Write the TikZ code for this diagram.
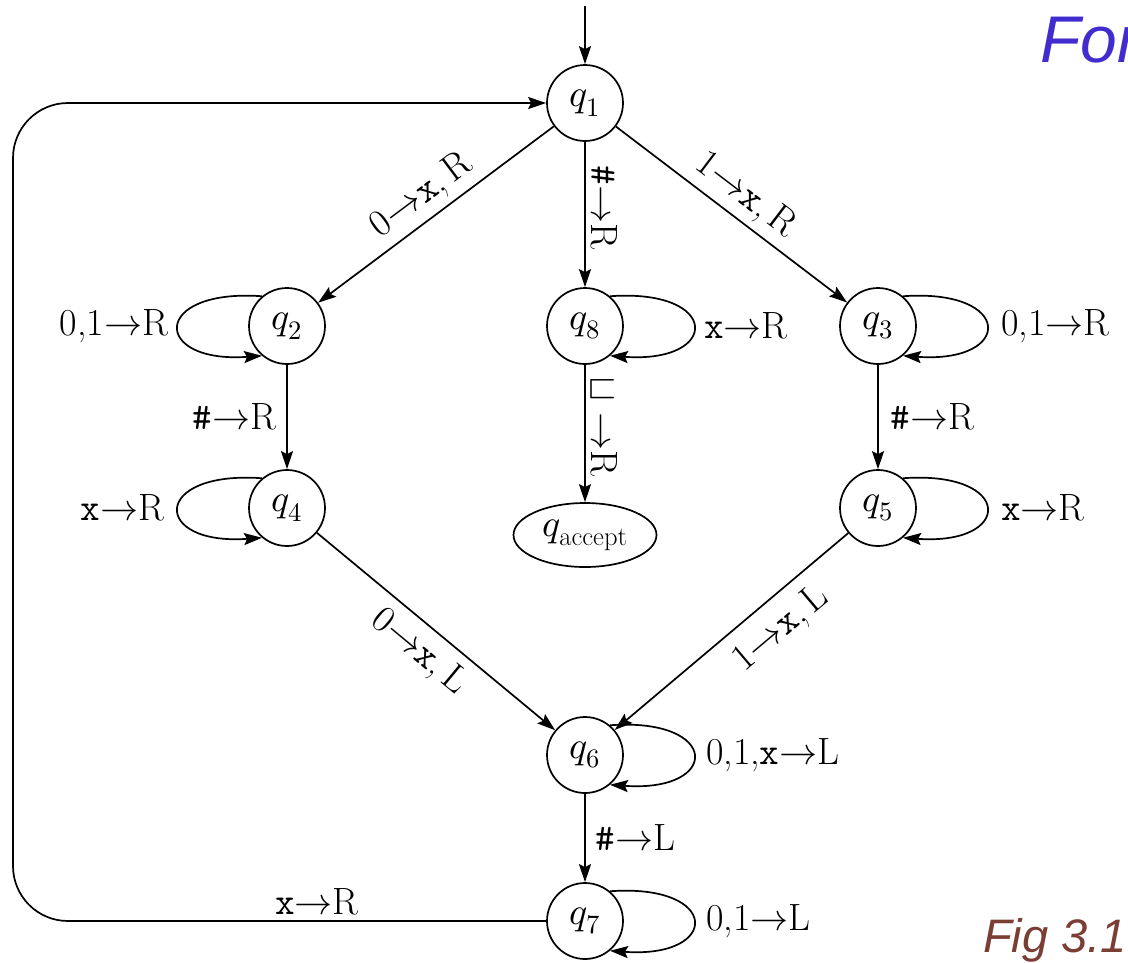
\documentclass[tikz,border=0pt]{standalone}
\usepackage{fontspec}
\usepackage{unicode-math}
\setmathfont{Latin Modern Math}
\newfontfamily\figfont{Liberation Sans}
\usetikzlibrary{arrows.meta,shapes.geometric}
\definecolor{forblue}{RGB}{66,44,208}
\definecolor{figbrown}{RGB}{122,62,52}
\begin{document}
\begin{tikzpicture}[x=1pt,y=-1pt,
  every node/.style={font=\fontsize{38}{42}\selectfont},
  state/.style={draw, circle, line width=1.7pt, minimum size=76pt, inner sep=0pt},
  acc/.style={draw, ellipse, line width=1.7pt, minimum width=143pt, minimum height=64pt, inner sep=0pt},
  edge/.style={line width=1.7pt, -{Stealth[length=18pt,width=12pt,inset=3pt]}},
  lbl/.style={inner sep=5pt},
]
\useasboundingbox (0,0) rectangle (1128,962);

% states
\node[state] (q1) at (585,103) {$q_1$};
\node[state] (q2) at (287,326) {$q_2$};
\node[state] (q8) at (585,326) {$q_8$};
\node[state] (q3) at (878,326) {$q_3$};
\node[state] (q4) at (287,508) {$q_4$};
\node[acc]   (qa) at (585,535) {$q_{\mathrm{accept}}$};
\node[state] (q5) at (878,508) {$q_5$};
\node[state] (q6) at (585,755) {$q_6$};
\node[state] (q7) at (585,921) {$q_7$};

\coordinate (start) at (585,6);
\coordinate (bl) at (13,921);
\coordinate (tl) at (13,103);

% start arrow
\draw[edge] (start) -- (q1);

% straight transitions
\draw[edge] (q1) -- node[sloped, above, lbl, inner sep=6pt]{0$\rightarrow$\texttt{x},\,R} (q2);
\draw[edge] (q1) -- node[sloped, above, lbl, pos=0.45]{\texttt{\#}$\rightarrow$R} (q8);
\draw[edge] (q1) -- node[sloped, above, lbl, inner sep=6pt]{1$\rightarrow$\texttt{x},\,R} (q3);
\draw[edge] (q2) -- node[left, lbl, inner sep=10pt]{\texttt{\#}$\rightarrow$R} (q4);
\draw[edge] (q3) -- node[right, lbl, inner sep=12pt]{\texttt{\#}$\rightarrow$R} (q5);
\draw[edge, line width=2.3pt] (q8) -- node[sloped, above, lbl, pos=0.45]{$\sqcup\rightarrow$R} (qa);
\draw[edge] (q4) -- node[sloped, below, lbl, inner sep=9pt]{0$\rightarrow$\texttt{x},\,L} (q6);
\draw[edge] (q5) -- node[sloped, below, lbl, pos=0.37, inner sep=13pt]{1$\rightarrow$\texttt{x},\,L} (q6);
\draw[edge] (q6) -- node[right, lbl, inner sep=10pt]{\texttt{\#}$\rightarrow$L} (q7);

% return path
\draw[edge, rounded corners=55pt] (q7.west) -- node[above, lbl, pos=0.43]{\texttt{x}$\rightarrow$R} (bl) -- (tl) -- (q1.west);

% self loops
\draw[edge] (q2.130) .. controls +(-111,-8) and +(-111,8) .. node[midway, left, lbl, inner sep=10pt]{0,1$\rightarrow$R} (q2.230);
\draw[edge] (q4.130) .. controls +(-111,-8) and +(-111,8) .. node[midway, left, lbl, inner sep=14pt]{\texttt{x}$\rightarrow$R} (q4.230);
\draw[edge] (q8.50) .. controls +(111,-8) and +(111,8) .. node[midway, right, lbl, inner sep=10pt]{\texttt{x}$\rightarrow$R} (q8.-50);
\draw[edge] (q3.50) .. controls +(111,-8) and +(111,8) .. node[midway, right, lbl, inner sep=14pt]{0,1$\rightarrow$R} (q3.-50);
\draw[edge] (q5.50) .. controls +(111,-8) and +(111,8) .. node[midway, right, lbl, inner sep=14pt]{\texttt{x}$\rightarrow$R} (q5.-50);
\draw[edge] (q6.50) .. controls +(111,-8) and +(111,8) .. node[midway, right, lbl, inner sep=12pt]{0,1,\texttt{x}$\rightarrow$L} (q6.-50);
\draw[edge] (q7.50) .. controls +(111,-8) and +(111,8) .. node[midway, right, lbl, inner sep=12pt]{0,1$\rightarrow$L} (q7.-50);

% captions
\begin{scope}
\clip (0,0) rectangle (1128,962);
\node[anchor=base west, text=forblue, inner sep=0pt, font=\figfont\itshape\fontsize{66}{70}\selectfont] (fortxt) at (1040,62) {For};
\end{scope}
\node[anchor=base west, text=figbrown, inner sep=0pt, font=\figfont\itshape\fontsize{47}{50}\selectfont] (figtxt) at (983,952) {Fig 3.1};
\end{tikzpicture}
\end{document}
